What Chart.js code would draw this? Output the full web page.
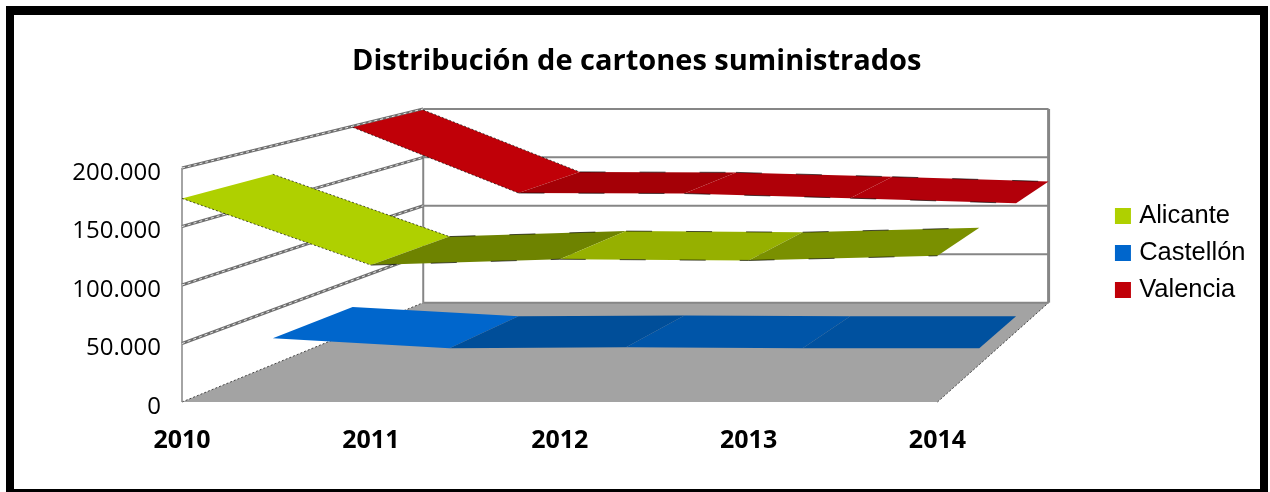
<!DOCTYPE html>
<html>
<head>
<meta charset="utf-8">
<title>Distribución de cartones suministrados</title>
<script src="https://cdn.jsdelivr.net/npm/chart.js@4/dist/chart.umd.min.js"></script>
<style>
  html, body { margin: 0; padding: 0; background: #fff; }
  #box { width: 1270px; height: 492px; }
</style>
</head>
<body>
<div id="box"><canvas id="chart"></canvas></div>
<script>
const years = ["2010", "2011", "2012", "2013", "2014"];
const alicante = [174000, 117000, 122000, 121000, 125000];
const castellon = [24000, 15000, 15800, 15000, 15000];
const valencia = [199000, 135000, 134500, 130000, 125000];
const yTicks = [0, 50000, 100000, 150000, 200000];

// un color por tramo : Excel sombrea cada tramo de la cinta segun su inclinacion
const alicanteShades = ["#afd000", "#6e8300", "#96b000", "#7a9000"];
const castellonShades = ["#0066cc", "#004e99", "#0055a8", "#00519f"];
const valenciaShades = ["#c00008", "#a40006", "#af0008", "#b2000a"];

// perspectiva : punto de fuga y reduccion al fondo del grafico
const VX = 1583, VY = -175, DEPTH = 0.208;

function project(x, y, z) {
  const f = 1 / (1 + DEPTH * z);
  return { x: VX + (x - VX) * f, y: VY + (y - VY) * f };
}

function polygon(ctx, pts, color) {
  ctx.beginPath();
  pts.forEach((p, i) => (i ? ctx.lineTo(p.x, p.y) : ctx.moveTo(p.x, p.y)));
  ctx.closePath();
  ctx.fillStyle = color;
  ctx.fill();
}

function line(ctx, a, b, color, width, dash) {
  ctx.beginPath();
  ctx.moveTo(a.x, a.y);
  ctx.lineTo(b.x, b.y);
  ctx.strokeStyle = color;
  ctx.lineWidth = width;
  ctx.setLineDash(dash || []);
  ctx.stroke();
  ctx.setLineDash([]);
}

const box3d = {
  id: "box3d",
  beforeDatasetsDraw(chart) {
    const { ctx, chartArea: a, scales } = chart;
    ctx.save();

    // --- marco negro ---
    ctx.fillStyle = "#000";
    ctx.fillRect(6, 6, 1262, 9);
    ctx.fillRect(6, 6, 8, 486);
    ctx.fillRect(1260, 6, 8, 486);
    ctx.fillRect(6, 489, 1262, 3);

    // --- suelo ---
    polygon(ctx, [
      project(a.left, a.bottom, 0),
      project(a.right, a.bottom, 0),
      project(a.right, a.bottom, 1),
      project(a.left, a.bottom, 1),
    ], "#a3a3a3");
    line(ctx, project(a.right, a.bottom, 0), project(a.right, a.bottom, 1), "#444", 1, [2, 2]);
    line(ctx, project(a.left, a.bottom, 0), project(a.left, a.bottom, 1), "#444", 1, [2, 2]);

    // --- paredes ---
    const backTop = project(a.left, a.top, 1);
    const backBottom = project(a.left, a.bottom, 1);
    line(ctx, { x: a.left, y: a.top }, { x: a.left, y: a.bottom }, "#868686", 1.5);
    line(ctx, backTop, backBottom, "#868686", 2);
    line(ctx, project(a.right, a.top, 1), project(a.right, a.bottom, 1), "#868686", 3);
    yTicks.forEach((v) => {
      const y = scales.y.getPixelForValue(v);
      line(ctx, project(a.left, y, 1), project(a.right, y, 1), "#868686", 2);
      if (v > 0) {
        line(ctx, project(a.left, y, 0), project(a.left, y, 1), "#6f6f6f", 3);
        line(ctx, project(a.left, y, 0), project(a.left, y, 1), "#e8e8e8", 1, [3, 3]);
      }
    });

    // --- cintas, de atras hacia delante ---
    [2, 1, 0].forEach((i) => {
      const ds = chart.data.datasets[i];
      const pts = chart.getDatasetMeta(i).data;
      const z0 = i / 3, z1 = (i + 1) / 3;
      for (let j = 0; j < pts.length - 1; j++) {
        const a0 = project(pts[j].x, pts[j].y, z0);
        const b0 = project(pts[j + 1].x, pts[j + 1].y, z0);
        const b1 = project(pts[j + 1].x, pts[j + 1].y, z1);
        const a1 = project(pts[j].x, pts[j].y, z1);
        polygon(ctx, [a0, b0, b1, a1], ds.shades[j]);
        // el borde de la cinta sale entrecortado en el original (no en la azul)
        if (i !== 1) {
          const dash = j === 0 ? [2, 2] : [26, 34];
          line(ctx, a0, b0, "rgba(0,0,0,0.65)", 1, dash);
          line(ctx, a1, b1, "rgba(0,0,0,0.65)", 1, dash);
        }
      }
    });
    ctx.restore();
  },
};

function serie(label, data, shades) {
  return {
    label, data, shades,
    backgroundColor: shades[0],
    borderColor: "rgba(0,0,0,0)",
    borderWidth: 0,
    pointRadius: 0,
    showLine: false,
  };
}

new Chart(document.getElementById("chart"), {
  type: "line",
  data: {
    labels: years,
    datasets: [
      serie("Alicante", alicante, alicanteShades),
      serie("Castellón", castellon, castellonShades),
      serie("Valencia", valencia, valenciaShades),
    ],
  },
  options: {
    responsive: true,
    maintainAspectRatio: false,
    animation: false,
    layout: { padding: { top: 14, right: 14.5, bottom: 0, left: 18 } },
    plugins: {
      tooltip: { enabled: false },
      title: {
        display: true,
        text: "Distribución de cartones suministrados",
        color: "#000",
        font: { family: "Open Sans", size: 29, weight: "bold" },
        padding: { top: 30, bottom: 89.2 },
      },
      legend: {
        position: "right",
        labels: {
          color: "#000",
          font: { family: "Liberation Sans", size: 25.5 },
          usePointStyle: true,
          pointStyle: "rect",
          boxWidth: 7,
          boxHeight: 16,
          padding: 11.5,
        },
      },
    },
    scales: {
      x: {
        type: "category",
        offset: false,
        grid: { display: false },
        border: { display: false },
        ticks: {
          color: "#000",
          font: { family: "Open Sans", size: 25, weight: "bold" },
          padding: 16,
          maxRotation: 0,
          autoSkip: false,
        },
        afterFit(scale) { scale.height = 90; },
      },
      y: {
        min: 0,
        max: 200000,
        afterBuildTicks(scale) { scale.ticks = yTicks.map((value) => ({ value })); },
        grid: { display: false, drawTicks: false },
        border: { display: false },
        ticks: {
          color: "#000",
          font: { family: "Open Sans", size: 24 },
          padding: 21,
          labelOffset: 5,
          callback: (v) => v.toLocaleString("es-ES", { useGrouping: true, minimumGroupingDigits: 1 }),
        },
        afterFit(scale) { scale.width = 164; },
      },
      // eje vacio : solo deja sitio entre el fondo del grafico y la leyenda
      gap: {
        position: "right",
        grid: { display: false },
        border: { display: false },
        ticks: { display: false },
        afterFit(scale) { scale.width = 170.5; },
      },
    },
  },
  plugins: [box3d],
});
</script>
</body>
</html>
